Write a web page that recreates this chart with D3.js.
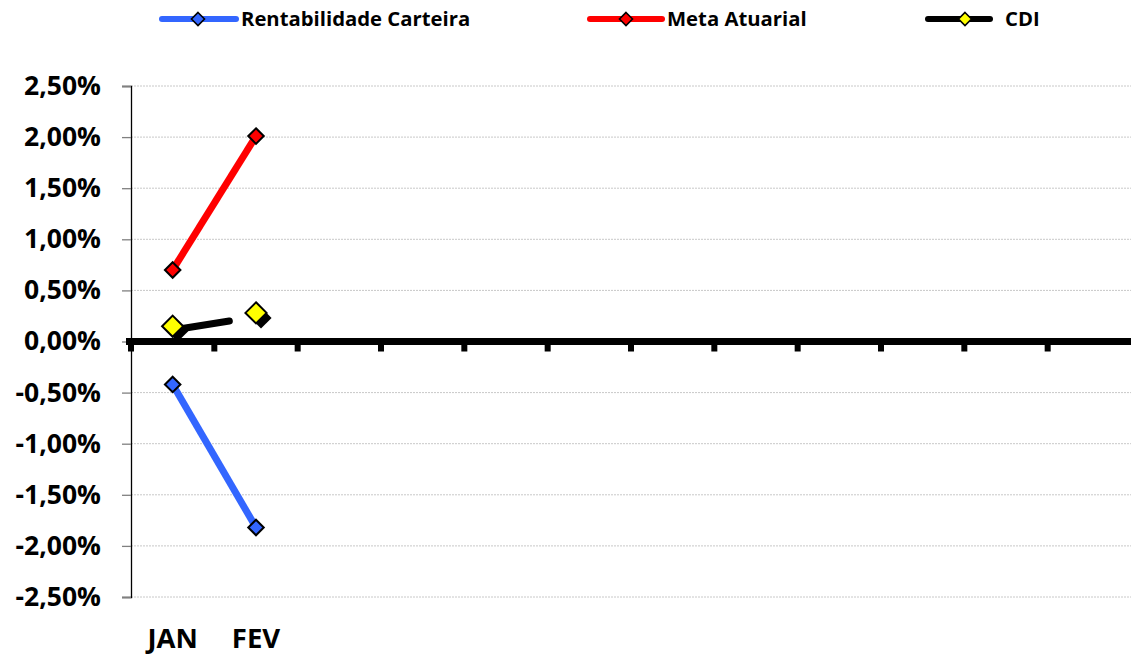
<!DOCTYPE html>
<html>
<head>
<meta charset="utf-8">
<script src="https://cdn.jsdelivr.net/npm/d3@7"></script>
<style>
  body { margin: 0; background: #fff; }
  text { font-family: "Open Sans", Lato, sans-serif; font-weight: bold; fill: #000; }
</style>
</head>
<body>
<svg id="svg"></svg>
<script>
var months = ["JAN", "FEV", "MAR", "ABR", "MAI", "JUN", "JUL", "AGO", "SET", "OUT", "NOV", "DEZ"];
var monthLabels = ["JAN", "FEV", "", "", "", "", "", "", "", "", "", ""];
var yTicks = [-0.025, -0.02, -0.015, -0.01, -0.005, 0, 0.005, 0.01, 0.015, 0.02, 0.025];

var carteira = [-0.0042, -0.0182];
var meta = [0.0070, 0.0201];
var cdi = [0.0015, 0.0028];

var series = [
  { name: "Rentabilidade Carteira", values: carteira, color: "#3366ff", marker: "#3366ff", size: 11 },
  { name: "Meta Atuarial", values: meta, color: "#ff0000", marker: "#ff0000", size: 11 },
  { name: "CDI", values: cdi, color: "#000000", marker: "#ffff00", size: 15 }
];

var width = 1131, height = 657;
var svg = d3.select("#svg").attr("width", width).attr("height", height);

var x = d3.scaleBand().domain(months).range([131, 1131]);
var y = d3.scaleLinear().domain([-0.025, 0.025]).range([597, 86]);

var fmt = function(d) {
  var s = (Math.abs(d) * 100).toFixed(2).replace(".", ",") + "%";
  return d < -1e-9 ? "-" + s : s;
};

// gridlines
svg.append("g")
  .selectAll("line")
  .data(yTicks)
  .enter().append("line")
    .attr("x1", 131).attr("x2", width)
    .attr("y1", function(d) { return y(d); })
    .attr("y2", function(d) { return y(d); })
    .attr("stroke", "#c8c8c8")
    .attr("stroke-width", 1)
    .attr("stroke-dasharray", "2,1");

// y axis
var yAxis = d3.axisLeft(y).tickValues(yTicks).tickSize(9).tickPadding(21).tickFormat(fmt);
var gy = svg.append("g").attr("transform", "translate(131,0)").call(yAxis);
gy.select(".domain").attr("stroke", "#000").attr("stroke-width", 1.3);
gy.selectAll(".tick line").attr("stroke", "#808080").attr("stroke-width", 1.3);
gy.selectAll(".tick text").style("font-size", "26.5px").attr("fill", "#000");

// zero axis with category ticks
svg.append("line")
  .attr("x1", 126).attr("x2", width)
  .attr("y1", y(0)).attr("y2", y(0))
  .attr("stroke", "#000").attr("stroke-width", 7);
svg.append("g")
  .selectAll("rect")
  .data(months)
  .enter().append("rect")
    .attr("x", function(d) { return x(d) - 3; })
    .attr("y", y(0) + 3)
    .attr("width", 6).attr("height", 7)
    .attr("fill", "#000");

// x labels at bottom
svg.append("g")
  .selectAll("text")
  .data(months)
  .enter().append("text")
    .attr("x", function(d) { return x(d) + x.bandwidth() / 2; })
    .attr("y", 648)
    .attr("text-anchor", "middle")
    .style("font-size", "27.5px")
    .text(function(d, i) { return monthLabels[i]; });

function diamond(s) {
  var r = s / 2;
  return "M0," + (-r) + "L" + r + ",0L0," + r + "L" + (-r) + ",0Z";
}

var line = d3.line()
  .x(function(d, i) { return x(months[i]) + x.bandwidth() / 2; })
  .y(function(d) { return y(d); });

// Carteira and Meta lines
series.slice(0, 2).forEach(function(s) {
  svg.append("path")
    .datum(s.values)
    .attr("d", line)
    .attr("fill", "none")
    .attr("stroke", s.color)
    .attr("stroke-width", 7);
  svg.append("g")
    .selectAll("path")
    .data(s.values)
    .enter().append("path")
      .attr("transform", function(d, i) { return "translate(" + (x(months[i]) + x.bandwidth() / 2) + "," + y(d) + ")"; })
      .attr("d", diamond(s.size * 1.41))
      .attr("fill", s.marker)
      .attr("stroke", "#000")
      .attr("stroke-width", 2);
});

// CDI with the shadow look
var cdiS = series[2];
var cdiLine = svg.append("path")
  .datum(cdiS.values)
  .attr("d", line)
  .attr("transform", "translate(5,3)")
  .attr("fill", "none")
  .attr("stroke", "#000")
  .attr("stroke-width", 7)
  .attr("stroke-linecap", "round");
var len = cdiLine.node().getTotalLength();
cdiLine.attr("stroke-dasharray", (len * 0.62) + "," + len);

svg.append("g")
  .selectAll("path")
  .data(cdiS.values)
  .enter().append("path")
    .attr("transform", function(d, i) { return "translate(" + (x(months[i]) + x.bandwidth() / 2 + 5) + "," + (y(d) + 5) + ")"; })
    .attr("d", diamond(cdiS.size * 1.41))
    .attr("fill", "#000");
svg.append("g")
  .selectAll("path")
  .data(cdiS.values)
  .enter().append("path")
    .attr("transform", function(d, i) { return "translate(" + (x(months[i]) + x.bandwidth() / 2) + "," + y(d) + ")"; })
    .attr("d", diamond(cdiS.size * 1.41))
    .attr("fill", cdiS.marker)
    .attr("stroke", "#000")
    .attr("stroke-width", 2);

// legend
var legendX = [162, 590, 928];
var legendW = [74, 72, 62];
var leg = svg.append("g")
  .selectAll("g")
  .data(series)
  .enter().append("g")
    .attr("transform", function(d, i) { return "translate(" + legendX[i] + ",19)"; });
leg.append("line")
  .attr("x1", 0).attr("x2", function(d, i) { return legendW[i]; })
  .attr("y1", 0).attr("y2", 0)
  .attr("stroke", function(d) { return d.color; })
  .attr("stroke-width", 6)
  .attr("stroke-linecap", "round");
leg.append("path")
  .attr("transform", function(d, i) { return "translate(" + (i === 2 ? 37 : 36) + ",0)"; })
  .attr("d", diamond(13))
  .attr("fill", function(d) { return d.marker; })
  .attr("stroke", "#000")
  .attr("stroke-width", 1.6);
leg.append("text")
  .attr("x", function(d, i) { return legendW[i] + (i === 2 ? 15 : 5); })
  .attr("y", 7)
  .style("font-size", "20.3px")
  .text(function(d) { return d.name; });
</script>
</body>
</html>
